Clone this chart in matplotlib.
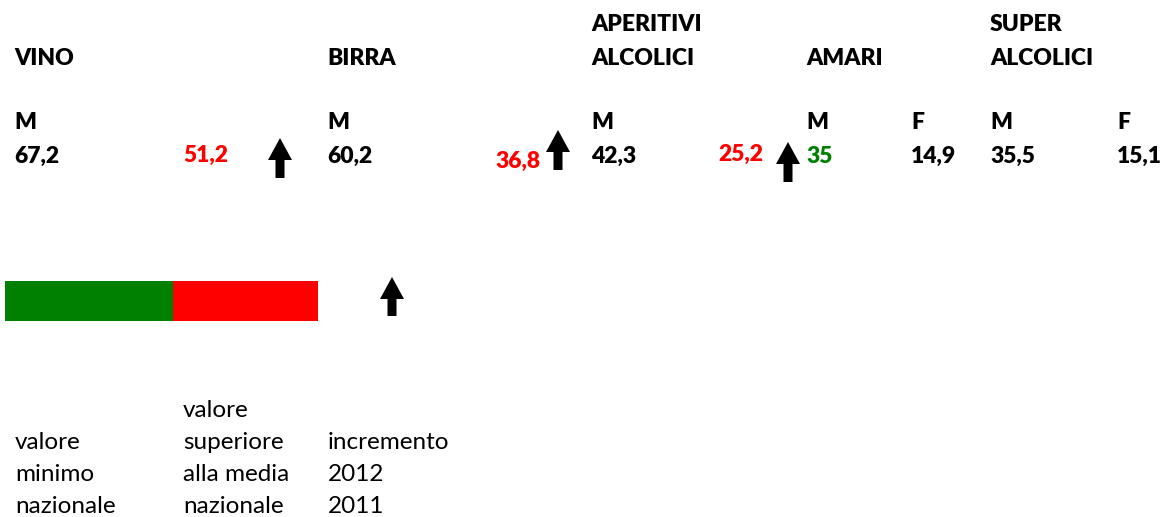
import matplotlib
matplotlib.use("Agg")
import matplotlib.pyplot as plt
from matplotlib.patches import FancyArrow, Rectangle

# ---- data ----
categories = ["VINO", "BIRRA", "APERITIVI\nALCOLICI", "AMARI", "SUPER\nALCOLICI"]
male_labels = ["M", "M", "M", "M", "M"]
female_labels = ["", "", "", "F", "F"]
male_values = [67.2, 60.2, 42.3, 35, 35.5]
female_values = [51.2, 36.8, 25.2, 14.9, 15.1]
male_status = ["normal", "normal", "normal", "min", "normal"]
female_status = ["above", "above", "above", "normal", "normal"]
increase = [True, True, True, False, False]
legend_labels = ["valore\nminimo\nnazionale", "valore\nsuperiore\nalla media\nnazionale", "incremento\n2012\n2011"]

# ---- style / layout ----
status_colors = {"normal": "black", "min": "#008000", "above": "#FF0000"}
W, H = 1168, 517
male_x = [14, 327, 591, 806, 990]
female_x = [183, 495, 718, 911, 1117]
female_base = [162, 168, 161, 163, 163]
arrow_x = [280, 558, 788]
arrow_bottom = [178, 170, 182]
header_base = 65
header_step = 34
sex_base = 129
value_base = 163
fs_b = 16.5
fs_r = 17.5
FAM = ["Lato", "DejaVu Sans"]

fig = plt.figure(figsize=(W / 100, H / 100), dpi=100)
ax = fig.add_axes([0, 0, 1, 1])
ax.set_xlim(0, W)
ax.set_ylim(H, 0)
ax.axis("off")


def fmt(v):
    return f"{v:g}".replace(".", ",")


def up_arrow(x, y_bottom, length=40):
    ax.add_patch(FancyArrow(x, y_bottom, 0, -length, width=9, head_width=24,
                            head_length=22, length_includes_head=True,
                            color="black", lw=0))


def btext(x, y, s, color="black"):
    ax.text(x, y, s, fontsize=fs_b, fontweight="heavy", family=FAM,
            va="baseline", ha="left", color=color)


ai = 0
for i, cat in enumerate(categories):
    lines = cat.split("\n")
    for k, line in enumerate(reversed(lines)):
        btext(male_x[i], header_base - header_step * k, line)
    btext(male_x[i], sex_base, male_labels[i])
    if female_labels[i]:
        btext(female_x[i], sex_base, female_labels[i])
    btext(male_x[i], value_base, fmt(male_values[i]), status_colors[male_status[i]])
    btext(female_x[i], female_base[i], fmt(female_values[i]),
          status_colors[female_status[i]])
    if increase[i]:
        up_arrow(arrow_x[ai], arrow_bottom[ai])
        ai += 1

# legend
ax.add_patch(Rectangle((5, 281), 168, 40, color=status_colors["min"], lw=0))
ax.add_patch(Rectangle((173, 281), 145, 40, color=status_colors["above"], lw=0))
up_arrow(392, 316, length=39)

legend_x = [15, 183, 328]
line_h = 32
bottom_base = 513
for x, lab in zip(legend_x, legend_labels):
    lines = lab.split("\n")
    for k, line in enumerate(reversed(lines)):
        ax.text(x, bottom_base - line_h * k, line, fontsize=fs_r, family=FAM,
                va="baseline", ha="left")

fig.savefig("out.png", dpi=100)
